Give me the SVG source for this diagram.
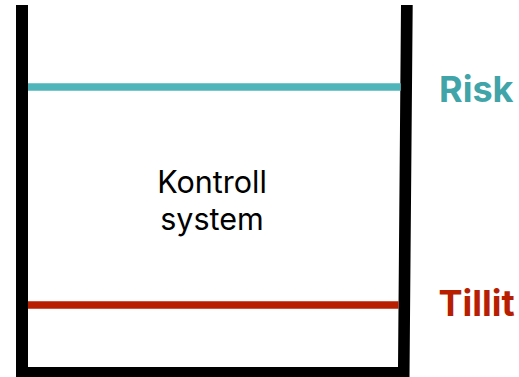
<svg xmlns="http://www.w3.org/2000/svg" width="519" height="377" viewBox="0 0 519 377">
  <style>
    .label { font-family: Inter, "Liberation Sans", sans-serif; font-weight: 700; font-size: 36px; }
    .inner { font-family: Inter, "Liberation Sans", sans-serif; font-size: 30.5px; fill: #000; text-anchor: middle; }
  </style>
  <rect width="519" height="377" fill="#fff"/>
  <g id="container">
    <path d="M16 5 L16 377 L409.5 377 L412.7 5 L401 5 L398 367 L28 367 L28 5 Z" fill="#000"/>
  </g>
  <g id="levels">
    <line x1="28" y1="87" x2="400.8" y2="87" stroke="#4fb5bb" stroke-width="7.5"/>
    <line x1="28" y1="305" x2="398.6" y2="305" stroke="#b81e00" stroke-width="7.5"/>
  </g>
  <g id="risk">
    <text class="label" x="439" y="102" fill="#40a4a8">Risk</text>
  </g>
  <g id="tillit">
    <text class="label" x="438.5" y="315.5" fill="#b81e00">Tillit</text>
  </g>
  <g id="kontroll">
    <text class="inner" x="212" y="192.5">Kontroll</text>
    <text class="inner" x="212" y="230">system</text>
  </g>
</svg>
